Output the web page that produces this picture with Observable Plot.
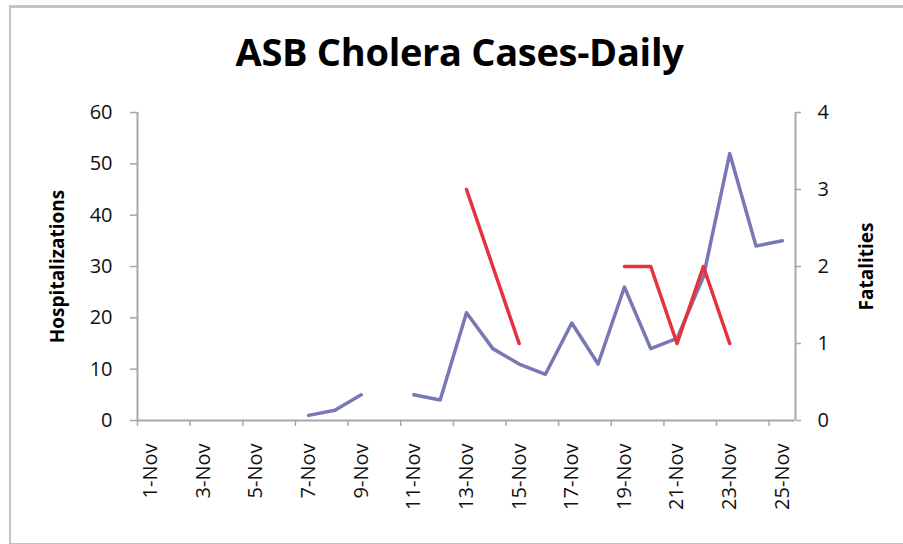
<!DOCTYPE html>
<html>
<head>
<meta charset="utf-8">
<script src="https://cdn.jsdelivr.net/npm/d3@7"></script>
<script src="https://cdn.jsdelivr.net/npm/@observablehq/plot@0.6"></script>
<style>
  html, body { margin: 0; padding: 0; background: #fff; }
  #wrap { position: relative; width: 903px; height: 544px; overflow: hidden; }
  #frame { position: absolute; left: 9px; top: 5px; width: 1000px; height: 535px;
           border-top: 3px solid #c4c4c4; border-left: 2px solid #c4c4c4; border-bottom: 2px solid #c4c4c4; }
  #title { position: absolute; left: 0; width: 919px; top: 26px; text-align: center; line-height: 1.36;
           font-family: "Open Sans", sans-serif; font-weight: 700; font-size: 38px; color: #000; letter-spacing: -0.3px; }
  #chart { position: absolute; left: 0; top: 0; }
</style>
</head>
<body>
<div id="wrap">
  <div id="frame"></div>
  <div id="chart"></div>
  <div id="title">ASB Cholera Cases-Daily</div>
</div>
<script>
const dates = ["1-Nov","2-Nov","3-Nov","4-Nov","5-Nov","6-Nov","7-Nov","8-Nov","9-Nov","10-Nov",
  "11-Nov","12-Nov","13-Nov","14-Nov","15-Nov","16-Nov","17-Nov","18-Nov","19-Nov","20-Nov",
  "21-Nov","22-Nov","23-Nov","24-Nov","25-Nov"];
const hospitalizations = [null,null,null,null,null,null,1,2,5,null,5,4,21,14,11,9,19,11,26,14,16,28,52,34,35];
const fatalities = [null,null,null,null,null,null,null,null,null,null,null,null,3,2,1,null,null,null,2,2,1,2,1,null,null];
const hospTicks = [0,10,20,30,40,50,60];
const fatalTicks = [0,1,2,3,4];
const labelDays = [1,3,5,7,9,11,13,15,17,19,21,23,25];

const ratio = 60 / 4; // right axis maximum 4 maps onto left axis maximum 60
const data = dates.map((d, i) => ({day: i + 1, label: d, hosp: hospitalizations[i], fatal: fatalities[i]}));
const boundaries = d3.range(0, 25, 2).map(k => k + 0.5);
const axisGray = "#a8a8a8";

const chart = Plot.plot({
  width: 903, height: 544,
  marginLeft: 137, marginRight: 108, marginTop: 112, marginBottom: 124,
  style: {fontFamily: "Open Sans, sans-serif", background: "transparent", color: "#111"},
  x: {type: "linear", domain: [0.5, 25.5]},
  y: {domain: [0, 60]},
  marks: [
    Plot.ruleX([0.5], {stroke: axisGray, strokeWidth: 2}),
    Plot.ruleX([25.5], {stroke: axisGray, strokeWidth: 2}),
    Plot.ruleY([0], {stroke: axisGray, strokeWidth: 2}),
    Plot.axisY(hospTicks, {anchor: "left", tickSize: 7, tickPadding: 18, stroke: axisGray, strokeWidth: 1.5,
      fill: "#111", fontSize: 20, fontWeight: 500, label: null}),
    Plot.axisY(fatalTicks.map(v => v * ratio), {anchor: "right", tickSize: 5, tickPadding: 17, stroke: axisGray,
      strokeWidth: 1.5, fill: "#111", fontSize: 20, fontWeight: 500, tickFormat: d => d / ratio, label: null}),
    Plot.axisX(boundaries, {anchor: "bottom", tickSize: 6, stroke: axisGray, strokeWidth: 1.5, tickFormat: () => "", label: null}),
    Plot.axisX(labelDays, {anchor: "bottom", tickSize: 0, tickPadding: 23, tickRotate: -90, fill: "#111",
      fontSize: 20, fontWeight: 500, tickFormat: d => dates[d - 1], label: null}),
    Plot.text(["Hospitalizations"], {frameAnchor: "left", textAnchor: "middle", dx: -80, rotate: -90, fontSize: 19, fontWeight: 700, fill: "#000"}),
    Plot.text(["Fatalities"], {frameAnchor: "right", textAnchor: "middle", dx: 71, rotate: -90, fontSize: 19, fontWeight: 700, fill: "#000"}),
    Plot.line(data, {x: "day", y: "hosp", stroke: "#7878b6", strokeWidth: 3.5}),
    Plot.line(data, {x: "day", y: d => d.fatal == null ? null : d.fatal * ratio, stroke: "#e5333d", strokeWidth: 3.5})
  ]
});
document.getElementById("chart").appendChild(chart);
</script>
</body>
</html>
